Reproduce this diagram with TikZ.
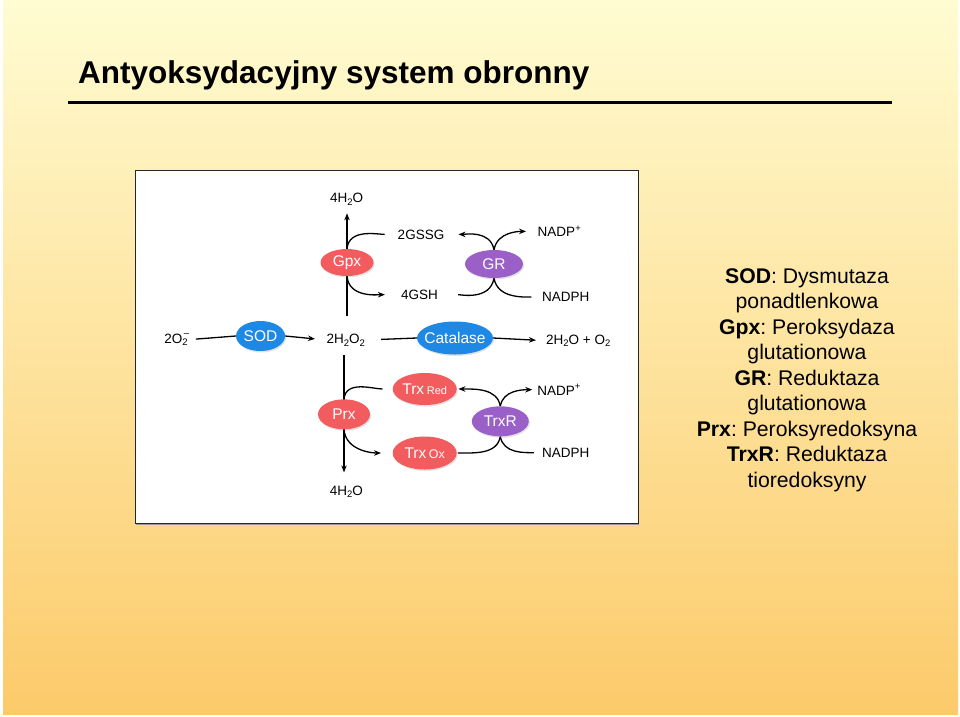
\documentclass[tikz,border=0pt]{standalone}
\usepackage{fontspec}
\setmainfont{Liberation Sans}
\usetikzlibrary{shapes.geometric,arrows.meta,shadows}
\pgfdeclarelayer{bg}\pgfdeclarelayer{conn}\pgfsetlayers{bg,conn,main}
\definecolor{enzred}{RGB}{243,92,94}
\definecolor{enzblue}{RGB}{30,136,229}
\definecolor{enzpurp}{RGB}{155,96,200}
\definecolor{bgtop}{RGB}{255,252,210}
\definecolor{bgbot}{RGB}{252,202,106}
\newcommand\lsub[1]{\raisebox{-0.4ex}{\fontsize{9.5}{9.5}\selectfont #1}}
\newcommand\ctext[1]{\makebox[0pt]{#1}}
\frenchspacing
\begin{document}
\begin{tikzpicture}[x=1pt,y=-1pt,
 enz/.style={ellipse, inner sep=0pt, text=white, font=\fontsize{15.5}{17}\selectfont,
   drop shadow={opacity=0.22, shadow xshift=1pt, shadow yshift=-1.5pt}},
 lbl/.style={inner sep=0pt, anchor=base, font=\fontsize{13.5}{15}\selectfont},
 con/.style={line width=1.3pt},
 arr/.style={con, -{Stealth[length=7pt,width=5.5pt]}}]
\useasboundingbox (0,0) rectangle (960,716);
\begin{pgfonlayer}{bg}
 \fill[white] (0,0) rectangle (960,716);
 \shade[top color=bgtop, bottom color=bgbot] (3,0) rectangle (958,714);
 \fill[black!40] (136,172) rectangle (639,525);
 \filldraw[fill=white, draw=black!85, line width=1pt] (135,170) rectangle (638,523);
\end{pgfonlayer}

% title
\node[anchor=base west, inner sep=0pt, font=\bfseries\fontsize{31.5}{36}\selectfont] (title) at (78,83) {Antyoksydacyjny system obronny};
\coordinate (r1) at (68,102);
\coordinate (r2) at (892,102);
\draw[line width=3pt] (r1) -- (r2);

% enzymes
\node[enz, fill=enzred, minimum width=53pt, minimum height=27pt] (gpx) at (347,262.5) {\ctext{Gpx}};
\node[enz, fill=enzblue, minimum width=49pt, minimum height=30pt] (sod) at (260.5,336) {\ctext{SOD}};
\node[enz, fill=enzpurp, minimum width=58pt, minimum height=28pt] (gr) at (494,264) {\ctext{GR}};
\node[enz, fill=enzblue, minimum width=76pt, minimum height=33pt] (cat) at (455,338) {\ctext{Catalase}};
\node[enz, fill=enzred, minimum width=52pt, minimum height=30pt] (prx) at (344,414.3) {\ctext{Prx}};
\node[enz, fill=enzred, minimum width=64pt, minimum height=32pt] (trxred) at (424.7,389) {\ctext{Trx\,{\fontsize{11}{11}\selectfont Red}}};
\node[enz, fill=enzred, minimum width=64pt, minimum height=33pt] (trxox) at (424.7,453) {\ctext{Trx\,{\fontsize{12.5}{12}\selectfont Ox}}};
\node[enz, fill=enzpurp, minimum width=57pt, minimum height=30pt] (trxr) at (500.3,421.3) {\ctext{TrxR}};

% labels
\node[lbl] (w1) at (346.7,202.3) {4H\lsub{2}O};
\node[lbl] (gssg) at (421,239) {2GSSG};
\node[lbl] (nadp1) at (559.5,236.7) {NADP\textsuperscript{+}};
\node[lbl] (gsh) at (419.5,299.3) {4GSH};
\node[lbl] (nadph1) at (565.8,301.7) {NADPH};
\node[lbl] (o2) at (176,343) {2O\rlap{\raisebox{0.9ex}{\fontsize{9.5}{9.5}\selectfont\,–}}\lsub{2}};
\node[lbl] (h2o2) at (345.8,343.3) {2H\lsub{2}O\lsub{2}};
\node[lbl] (prod) at (578.3,344) {2H\lsub{2}O + O\lsub{2}};
\node[lbl] (nadp2) at (559.2,395) {NADP\textsuperscript{+}};
\node[lbl] (nadph2) at (565.8,457.3) {NADPH};
\node[lbl] (w2) at (346.3,495) {4H\lsub{2}O};

% legend
\node[anchor=north, inner sep=0pt, align=center, font=\fontsize{21.2}{25.5}\selectfont] (legend) at (807,268)
 {\textbf{SOD}: Dysmutaza\\ponadtlenkowa\\\textbf{Gpx}: Peroksydaza\\glutationowa\\\textbf{GR}: Reduktaza\\glutationowa\\\textbf{Prx}: Peroksyredoksyna\\\textbf{TrxR}: Reduktaza\\tioredoksyny};

\begin{pgfonlayer}{conn}
 % main line
 \draw[con, shorten <=8pt] (o2.east) -- (sod.west);
 \draw[arr, shorten >=11.5pt] (sod.east) -- (h2o2.west);
 \draw[con, shorten <=16pt] (h2o2.east) -- (cat.west);
 \draw[arr, shorten >=10pt] (cat.east) -- (prod.west);
 % Gpx branch
 \draw[arr, shorten <=17.5pt, shorten >=8pt] (gpx.center |- h2o2.north) -- (gpx.center |- w1.south);
 \draw[con, shorten <=13pt] (gssg.west) to[out=180,in=85] (gpx.north);
 \draw[arr, shorten >=16pt] (gpx.south) to[out=-85,in=180] (gsh.west);
 % GR
 \draw[arr, shorten >=14pt] (gr.north) to[out=100,in=0] (gssg.east);
 \draw[arr, shorten >=11.5pt] (gr.north) to[out=80,in=180] (nadp1.west);
 \draw[con, shorten <=20pt] (gsh.east) to[out=0,in=-100] (gr.south);
 \draw[con, shorten <=10.5pt] (nadph1.west) to[out=180,in=-80] (gr.south);
 % Prx branch
 \draw[arr, shorten <=9pt, shorten >=13pt] (prx.center |- h2o2.south) -- (prx.center |- w2.north);
 \draw[con, shorten <=10pt] (trxred.west) to[out=180,in=85] (prx.north);
 \draw[arr, shorten >=11.5pt] (prx.south) to[out=-85,in=180] (trxox.west);
 % TrxR
 \draw[arr, shorten >=1.5pt] (trxr.north) to[out=100,in=0] (trxred.east);
 \draw[arr, shorten >=5pt] (trxr.north) to[out=80,in=180] (nadp2.west);
 \draw[con, shorten <=1pt] (trxox.east) to[out=0,in=-100] (trxr.south);
 \draw[con, shorten <=8pt] (nadph2.west) to[out=180,in=-80] (trxr.south);
\end{pgfonlayer}
\end{tikzpicture}
\end{document}
